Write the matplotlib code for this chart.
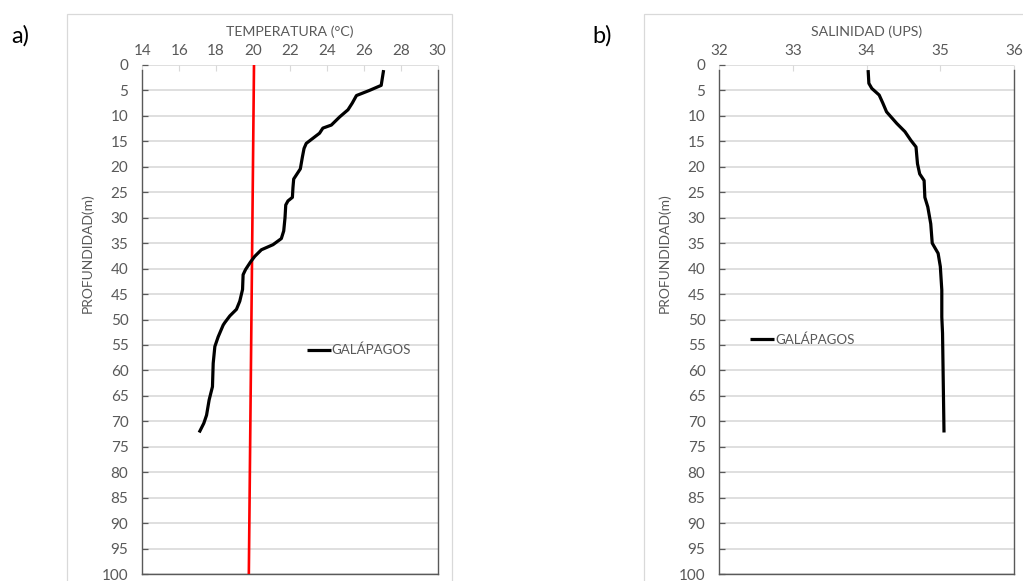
import matplotlib
matplotlib.use("Agg")
import matplotlib.pyplot as plt
from matplotlib.patches import Rectangle

plt.rcParams["font.family"] = ["Lato", "DejaVu Sans"]

# Temperature profile, Galápagos station
temp_depth = [1, 4, 5, 6, 7.5, 8.8, 10.2, 11.8, 12.4, 13.4, 14.4, 15.4, 16.4, 18.1,
              20.4, 21.4, 22.4, 24.1, 26.0, 26.7, 27.5, 30, 32.6, 34.1, 35.3, 36.3,
              37.6, 38.7, 40.2, 41.2, 44.1, 46.4, 48.0, 49.3, 50.6, 51.1, 53.4, 55.3,
              58.6, 63.2, 65.8, 68.8, 70.4, 72.2]
temp_values = [27.07, 26.94, 26.3, 25.6, 25.37, 25.14, 24.69, 24.24, 23.78, 23.6, 23.24,
               22.88, 22.76, 22.67, 22.56, 22.38, 22.2, 22.16, 22.13, 21.89, 21.77, 21.73,
               21.66, 21.53, 21.08, 20.45, 20.09, 19.86, 19.59, 19.46, 19.43, 19.28, 19.1,
               18.74, 18.47, 18.38, 18.11, 17.93, 17.84, 17.8, 17.62, 17.48, 17.33, 17.08]

# Reference isotherm
ref_depth = [0, 100]
ref_temp = [20.05, 19.77]

# Salinity profile, Galápagos station
sal_depth = [1, 3.6, 4.6, 5.9, 7.5, 9.2, 11.5, 13.1, 14.8, 16.1, 19.4, 21.4, 22.7, 26,
             27.9, 31.2, 35, 37, 39.6, 44.2, 49.5, 52.7, 62.5, 72.2]
sal_values = [34.02, 34.03, 34.07, 34.17, 34.22, 34.27, 34.41, 34.52, 34.6, 34.67, 34.69,
              34.72, 34.78, 34.79, 34.83, 34.87, 34.89, 34.97, 35.0, 35.02, 35.02, 35.03,
              35.04, 35.05]

temp_ticks = [14, 16, 18, 20, 22, 24, 26, 28, 30]
sal_ticks = [32, 33, 34, 35, 36]
depth_ticks = list(range(0, 101, 5))

W, H = 1023, 581
GRID = "#d9d9d9"
TEXT = "#595959"
SPINE = "#595959"

fig = plt.figure(figsize=(W / 100, H / 100), dpi=100)


def px_axes(x0, x1, y0, y1):
    return fig.add_axes([x0 / W, 1 - y1 / H, (x1 - x0) / W, (y1 - y0) / H])


def chart_box(x0, y0, x1, y1):
    fig.patches.append(Rectangle((x0 / W, 1 - y1 / H), (x1 - x0) / W, (y1 - y0) / H,
                                 transform=fig.transFigure, fill=False,
                                 edgecolor=GRID, linewidth=0.9, zorder=0))


def style_profile(ax, xticks, xlabel):
    ax.set_ylim(100, 0)
    ax.set_xlim(xticks[0], xticks[-1])
    ax.set_xticks(xticks)
    ax.set_yticks(depth_ticks)
    ax.xaxis.tick_top()
    ax.xaxis.set_label_position("top")
    ax.set_xlabel(xlabel, color=TEXT, fontsize=10.2, labelpad=6)
    ax.tick_params(axis="x", colors=GRID, labelcolor=TEXT, labelsize=11,
                   direction="in", length=4, width=0.8, pad=5)
    ax.tick_params(axis="y", colors=SPINE, labelcolor=TEXT, labelsize=11,
                   direction="in", length=4, width=0.9, pad=10)
    ax.grid(axis="y", color=GRID, linewidth=1.2)
    ax.set_axisbelow(True)
    ax.spines["top"].set_visible(False)
    for side in ("left", "right"):
        ax.spines[side].set_color(SPINE)
        ax.spines[side].set_linewidth(1.0)
        ax.spines[side].set_bounds(1, 100)
    ax.spines["bottom"].set_color(SPINE)
    ax.spines["bottom"].set_linewidth(1.0)
    ax.text(-0.185, 0.63, "PROFUNDIDAD(m)", transform=ax.transAxes, rotation=90,
            ha="center", va="center", color=TEXT, fontsize=10)


# a) temperature
chart_box(66.7, 14.3, 452, 600)
ax1 = px_axes(142.3, 437.7, 65, 574)
style_profile(ax1, temp_ticks, "TEMPERATURA (°C)")
ax1.plot(ref_temp, ref_depth, color="#ff0000", linewidth=1.9, zorder=3)
ax1.plot(temp_values, temp_depth, color="black", linewidth=2.3, zorder=4,
         solid_capstyle="butt", label="GALÁPAGOS")
ax1.legend(loc="center left", bbox_to_anchor=((306.5 - 142.3) / 295.4, 1 - (350 - 65) / 509),
           frameon=False, fontsize=9.6, labelcolor=TEXT, handlelength=1.8,
           handletextpad=0.1, borderpad=0, borderaxespad=0)
fig.text(11 / W, 1 - 36 / H, "a)", fontsize=17, va="center", ha="left", color="black")

# b) salinity
chart_box(644, 14.3, 1040, 600)
ax2 = px_axes(719.3, 1014, 65, 574)
style_profile(ax2, sal_ticks, "SALINIDAD (UPS)")
ax2.plot(sal_values, sal_depth, color="black", linewidth=2.3, zorder=4,
         solid_capstyle="butt", label="GALÁPAGOS")
ax2.legend(loc="center left", bbox_to_anchor=((750 - 719.3) / 294.7, 1 - (339.3 - 65) / 509),
           frameon=False, fontsize=9.6, labelcolor=TEXT, handlelength=1.8,
           handletextpad=0.1, borderpad=0, borderaxespad=0)
fig.text(592 / W, 1 - 36 / H, "b)", fontsize=17, va="center", ha="left", color="black")

fig.savefig("out.png", dpi=100)
